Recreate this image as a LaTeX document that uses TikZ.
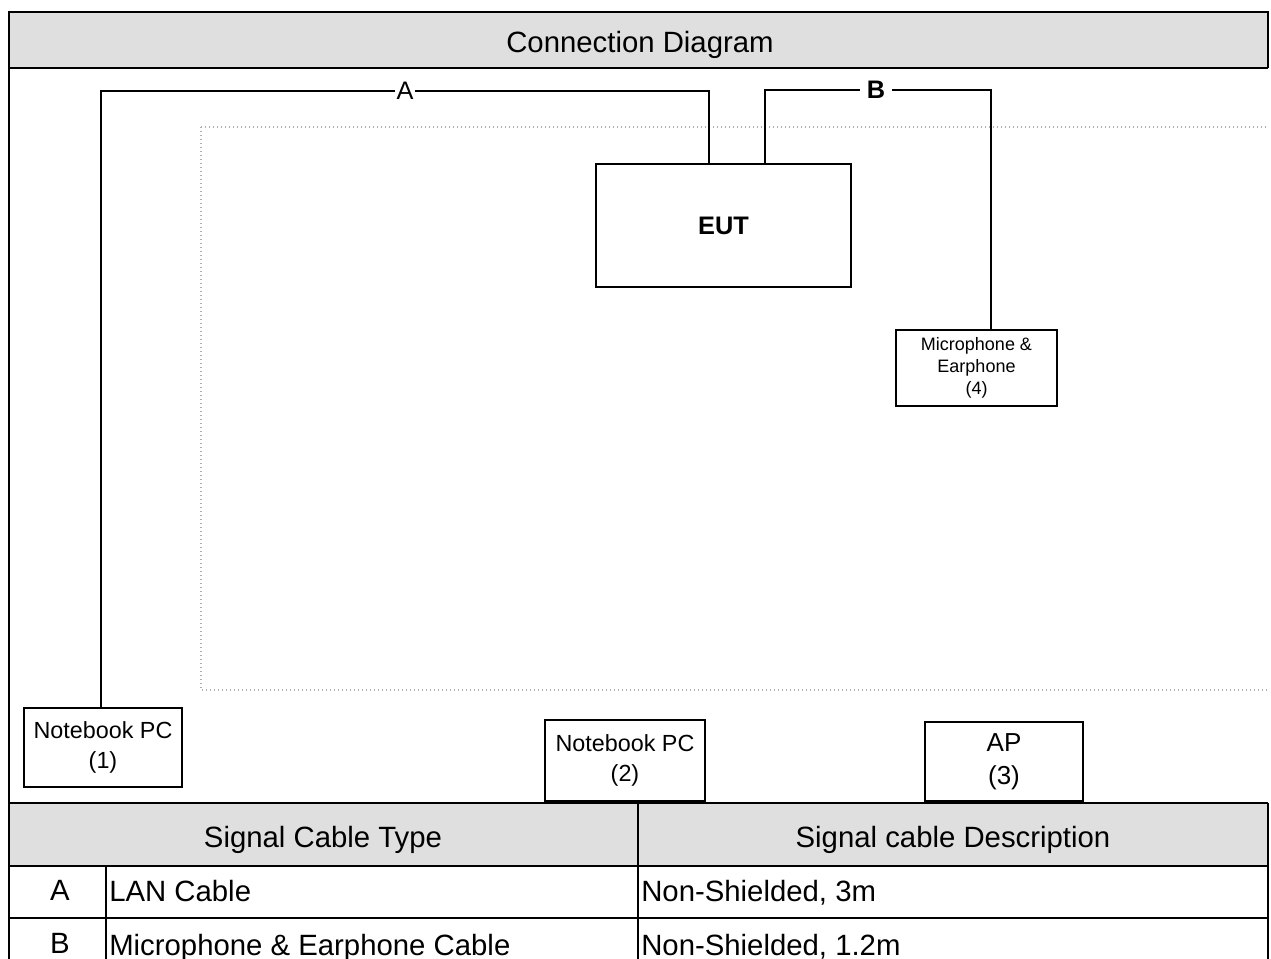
\documentclass[tikz,border=0pt]{standalone}
\usepackage{fontspec}
\setmainfont{Liberation Sans}
\definecolor{hdrgray}{RGB}{223,223,223}
\definecolor{dotgray}{RGB}{175,175,175}

\begin{document}
\begin{tikzpicture}[x=0.75pt,y=0.75pt,yscale=-1,xscale=1,
    frame/.style={line width=2pt},
    cable/.style={line width=1.6pt},
    devbox/.style={draw, line width=2.2pt, align=center, inner sep=0pt},
    cell/.style={font=\fontsize{22}{26}\selectfont, inner sep=0pt}]
    \useasboundingbox (0,0) rectangle (1271,959);

    %Shape: Rectangle [header rows]
    \fill [hdrgray] (9,12) rectangle (1268,68);
    \fill [hdrgray] (9,803) rectangle (1268,866);
    %Shape: Rectangle [test area, dotted]
    \draw [dotgray, dotted, line width=1pt] (201,127) -- (1268,127) (201,127) -- (201,690) -- (1268,690);

    %Shape: Frame lines
    \draw [frame] (1268,68) -- (1268,12) -- (9,12) -- (9,959);
    \draw [frame] (1268,959) -- (1268,803);
    \draw [frame] (9,68) -- (1268,68);
    \draw [frame] (9,803) -- (1268,803);
    \draw [frame] (9,866) -- (1268,866);
    \draw [frame] (9,918) -- (1268,918);
    \draw [frame] (638,803) -- (638,959);
    \draw [frame] (106,866) -- (106,959);

    % Text Node
    \node [cell, anchor=base] (title) at (640,53) {Connection Diagram};
    % Text Node
    \node [cell, anchor=base] (typehdr) at (323,847) {Signal Cable Type};
    \node [cell, anchor=base] (deschdr) at (953,847) {Signal cable Description};
    % Text Node
    \node [cell, anchor=base] (rowa) at (60,900) {A};
    \node [cell, anchor=base west] (lan) at (109,901) {LAN Cable};
    \node [cell, anchor=base west] (landesc) at (641,901) {Non-Shielded, 3m};
    % Text Node
    \node [cell, anchor=base] (rowb) at (60,953) {B};
    \node [cell, anchor=base west] (mic cable) at (109,955) {Microphone \& Earphone Cable};
    \node [cell, anchor=base west] (micdesc) at (641,955) {Non-Shielded, 1.2m};

    % Device boxes
    \node [devbox, minimum width=191.25pt, minimum height=92.25pt, font=\fontsize{19}{22}\selectfont\bfseries] (eut) at (723.5,225.5) {EUT};
    \node [devbox, minimum width=120.75pt, minimum height=57pt, font=\fontsize{13.5}{16.5}\selectfont] (mic) at (976.5,368) {Microphone \&\\Earphone\\(4)};
    \node [devbox, minimum width=118.5pt, minimum height=59.25pt, font=\fontsize{17.5}{22.5}\selectfont] (nb1) at (103,747.5) {Notebook PC\\(1)};
    \node [devbox, minimum width=120pt, minimum height=60.75pt, font=\fontsize{17.5}{22.5}\selectfont] (nb2) at (625,760.5) {Notebook PC\\(2)};
    \node [devbox, minimum width=118.5pt, minimum height=59.25pt, font=\fontsize{19.5}{24.5}\selectfont] (ap) at (1004,761.5) {AP\\(3)};

    % Cable labels
    \node [font=\fontsize{19}{22}\selectfont, inner sep=1pt] (laba) at (405,91) {A};
    \node [font=\fontsize{19}{22}\selectfont\bfseries, inner sep=5pt] (labb) at (876,90) {B};

    % Cable A
    \draw [cable] ([xshift=-10.9pt]eut.north) |- (laba.east);
    \draw [cable] (laba.west) -| ([xshift=-1.5pt]nb1.north);
    % Cable B
    \draw [cable] ([xshift=31.1pt]eut.north) |- (labb.west);
    \draw [cable] (labb.east) -| ([xshift=10.9pt]mic.north);
\end{tikzpicture}
\end{document}
